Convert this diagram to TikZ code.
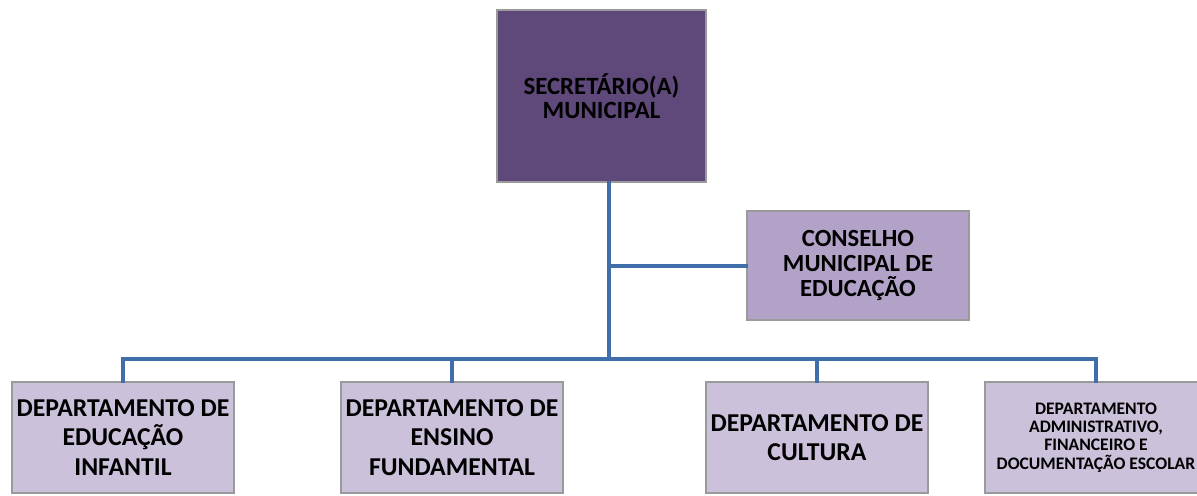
\documentclass[tikz,border=0pt]{standalone}
\usepackage{fontspec}
\setmainfont{Carlito}
\definecolor{topfill}{HTML}{5F497A}
\definecolor{consfill}{HTML}{B3A2C7}
\definecolor{deptfill}{HTML}{CCC1DA}
\definecolor{linecol}{HTML}{3F6EAA}
\definecolor{edgecol}{HTML}{9A9A9A}
\tikzset{
  box/.style={draw=edgecol, line width=0.8pt, align=center, inner sep=0pt, text=black, font=\bfseries\fontsize{19.3}{22}\selectfont},
  deptbox/.style={box, fill=deptfill, minimum width=222*0.75pt, minimum height=111*0.75pt},
  conn/.style={draw=linecol, line width=3pt, line cap=rect}
}
\begin{document}
\begin{tikzpicture}[x=0.75pt,y=-0.75pt]
\useasboundingbox (0,0) rectangle (1197,496);
\fill[white] (0,0) rectangle (1197,496);
\node[box, fill=topfill, minimum width=209*0.75pt, minimum height=172*0.75pt, font=\bfseries\fontsize{18.6}{18}\selectfont] (top) at (601.5,96) {SECRETÁRIO(A)\\MUNICIPAL};
\node[box, fill=consfill, minimum width=222*0.75pt, minimum height=109*0.75pt, font=\bfseries\fontsize{18.5}{18.8}\selectfont] (cons) at (858,265.5) {CONSELHO\\MUNICIPAL DE\\EDUCAÇÃO};
\node[deptbox] (b1) at (123,437.5) {DEPARTAMENTO DE\\EDUCAÇÃO\\INFANTIL};
\node[deptbox] (b2) at (452,437.5) {DEPARTAMENTO DE\\ENSINO\\FUNDAMENTAL};
\node[deptbox] (b3) at (817,437.5) {DEPARTAMENTO DE\\CULTURA};
\node[deptbox, font=\bfseries\fontsize{13.2}{13.8}\selectfont] (b4) at (1096,437.5) {DEPARTAMENTO\\ADMINISTRATIVO,\\FINANCEIRO E\\DOCUMENTAÇÃO ESCOLAR};
\coordinate (bus) at (609,359);
\draw[conn] (top.south -| bus) -- (bus);
\draw[conn] (cons.west) -- (cons.west -| bus);
\draw[conn] (b1.north) |- (b4.north |- bus) -- (b4.north);
\draw[conn] (b2.north) -- (b2.north |- bus);
\draw[conn] (b3.north) -- (b3.north |- bus);
\end{tikzpicture}
\end{document}
